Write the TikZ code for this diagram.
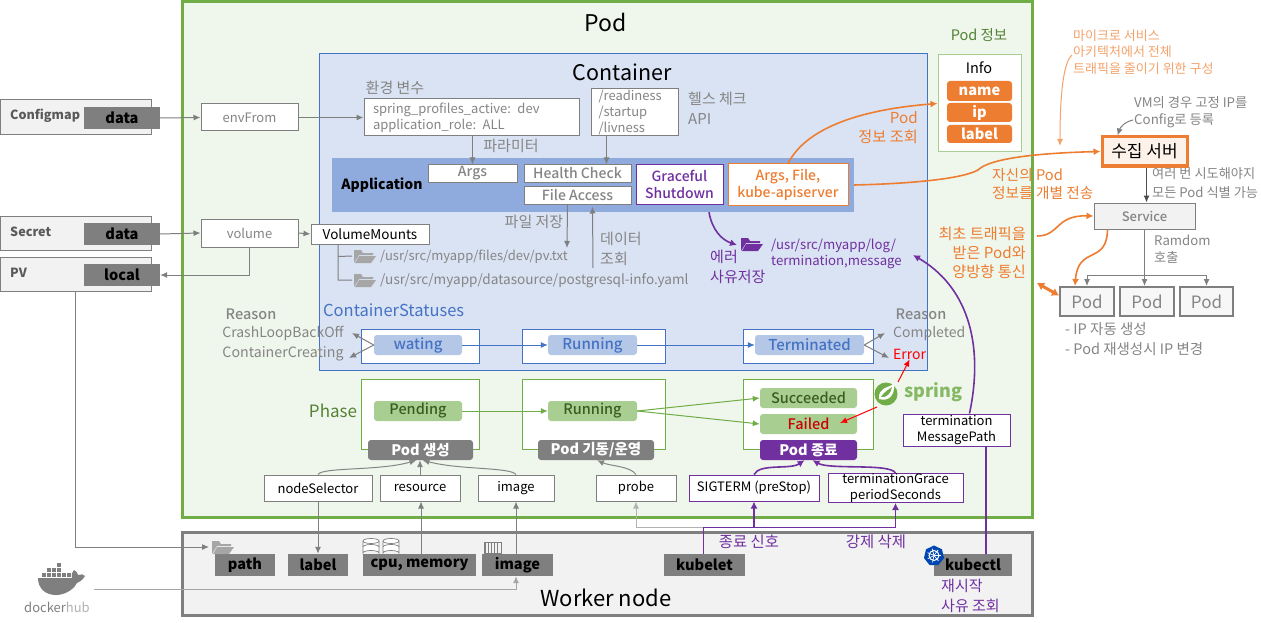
\documentclass[tikz,border=0pt]{standalone}
\usepackage{fontspec}
\setmainfont{Noto Sans CJK KR}
\newfontfamily\med{Noto Sans CJK KR Medium}
\usetikzlibrary{arrows.meta,calc}
\definecolor{G}{HTML}{7F7F7F}
\definecolor{TG}{HTML}{858585}
\definecolor{PG}{HTML}{70AD47}
\definecolor{DG}{HTML}{548235}
\definecolor{BL}{HTML}{4472C4}
\definecolor{PU}{HTML}{7030A0}
\definecolor{OR}{HTML}{ED7D31}
\definecolor{LO}{HTML}{F4A36B}
\definecolor{LG}{HTML}{F2F2F2}
\definecolor{APP}{HTML}{8FAADC}
\newcommand\fs[1]{\fontsize{#1}{#1}\selectfont}
\newcommand\fsl[2]{\fontsize{#1}{#2}\selectfont}
\newcommand\bx[7][]{\pgfmathsetmacro\cx{(#3+#5)/2}\pgfmathsetmacro\cy{(#4+#6)/2}\pgfmathsetmacro\ww{#5-#3}\pgfmathsetmacro\hh{#6-#4}\node[inner sep=0pt,align=center,minimum width=\ww pt,minimum height=\hh pt,#1] (#2) at (\cx,\cy) {#7};}
\newcommand\tx[5][]{\node[inner sep=0pt,align=left,#1] (#2) at (#3,#4) {#5};}
\tikzset{
 whitebox/.style={draw=G,fill=white,line width=1pt,text=TG,font=\fs{13}},
 blackbox/.style={draw=G,fill=white,line width=1pt,text=black,font=\fs{13}},
 purplebox/.style={draw=PU,fill=white,line width=1pt,text=black,font=\fs{13}},
 outbox/.style={draw=G,fill=LG,line width=1pt},
 outtext/.style={anchor=west,text=black!65,font=\bfseries\fs{12.6}},
 databox/.style={fill=G,text=black,font=\bfseries\fs{14.6}},
 bluebox/.style={draw=BL,fill=white,line width=1pt},
 greenbox/.style={draw=PG,fill=white,line width=1pt},
 bluepill/.style={fill=BL!40!white,rounded corners=3pt,text=BL,font=\med\fs{15}},
 greenpill/.style={fill=PG!60!white,rounded corners=3pt,text=DG!70!black,font=\med\fs{14.5}},
 graypill/.style={fill=G,rounded corners=3pt,text=white,font=\bfseries\fs{14.5}},
 orangepill/.style={fill=OR,rounded corners=3pt,text=white,font=\bfseries\fs{14.6}},
 podbox/.style={draw=G,fill=LG!60!white,line width=2pt,text=TG,font=\fs{17}},
 gt/.style={text=TG,font=\fs{15}},
 gtl/.style={text=TG,font=\fsl{15}{20},anchor=west},
 ot/.style={text=OR,font=\fsl{15.2}{19}},
 put/.style={text=PU,font=\fsl{15}{20}},
 ga/.style={draw=G,line width=1pt,-{Latex[length=7pt,width=6pt]}},
 ba/.style={draw=BL,line width=1pt,-{Latex[length=7pt,width=6pt]}},
 gra/.style={draw=PG,line width=1pt,-{Latex[length=7pt,width=6pt]}},
 pa/.style={draw=PU,line width=1.6pt,-{Latex[length=7pt,width=7pt]}},
 oa/.style={draw=OR,line width=1.6pt,-{Latex[length=7pt,width=7pt]}},
 ra/.style={draw=red,line width=1pt,-{Latex[length=7pt,width=6pt]}},
 folderico/.pic={\fill[#1] (0,0)--(0,-13)--(7,-13)--(9,-10)--(19,-10)--(19,-8)--(5,-8)--(0,0)--cycle;
   \fill[#1] (1,0)--(5,-7)--(22,-7)--(17,0)--cycle;},
 cyl/.pic={\draw[G,fill=white,line width=.7pt] (-8,-12) -- (-8,0) arc[start angle=180,end angle=360,x radius=8,y radius=2.5] -- (8,-12);
   \draw[G,fill=white,line width=.7pt] (0,-12) ellipse[x radius=8,y radius=2.5];
   \draw[G,line width=.7pt] (-8,-6) arc[start angle=180,end angle=360,x radius=8,y radius=2.5];}
}
\begin{document}
\begin{tikzpicture}[x=1pt,y=-1pt]
\useasboundingbox (0,0) rectangle (1261,623);
\fill[white] (0,0) rectangle (1261,623);
% regions
\bx[draw=PG,fill=PG!11!white,line width=3pt]{pod}{182}{2}{1032}{517}{}
\tx{podt}{606}{22}{\fs{23}Pod}
\bx[draw=G,fill=LG,line width=3pt]{worker}{182}{532}{1032}{615}{}
\tx{workert}{606}{598}{\fs{22}Worker node}
\bx[draw=BL,fill=BL!20!white,line width=1pt]{cont}{319}{54}{927}{370}{}
\tx{contt}{622}{72}{\fs{21.5}Container}
% left
\bx[outbox]{cfg}{0}{100}{151}{135}{}
\tx[outtext]{cfgt}{10}{116}{Configmap}
\bx[databox]{cfgd}{84}{107}{160}{129}{data}
\bx[outbox]{sec}{0}{216}{151}{250}{}
\tx[outtext]{sect}{10}{232}{Secret}
\bx[databox]{secd}{84}{223}{160}{245}{data}
\bx[outbox]{pv}{0}{257}{151}{291}{}
\tx[outtext]{pvt}{10}{273}{PV}
\bx[databox]{pvd}{84}{264}{160}{286}{local}
\bx[whitebox]{envf}{201}{104}{298}{131}{envFrom}
\bx[whitebox]{vol}{201}{219}{298}{247}{volume}
\bx[blackbox,font=\fs{13.5}]{vm}{311}{224}{429}{244}{VolumeMounts}
\draw[ga] (cfgd.east) -- (envf.west);
\draw[ga] (secd.east) -- (vol.west);
\draw[ga] (vol.east) -- (vm.west);
\draw[ga] (vol.south) |- (pvd.east);
% env, health
\tx[gt]{envt}{395}{88}{환경 변수}
\bx[whitebox,align=left,text width=197pt,font=\fsl{13}{16}]{env}{364}{99}{579}{136}{spring\_profiles\_active: dev\\application\_role: ALL}
\draw[ga] (envf.east) -- (env.west |- envf.east);
\bx[whitebox,align=left,text width=72pt,font=\fsl{13}{16}]{rd}{591}{89}{678}{136}{/readiness\\/startup\\/livness}
\tx[gtl]{hct}{688}{108}{헬스 체크\\API}
\tx[gt]{part}{511}{146}{파라미터}
% application
\bx[fill=APP]{app}{332}{158}{854}{212}{}
\tx[font=\bfseries\fs{14}]{appt}{382}{185}{Application}
\bx[whitebox,font=\med\fs{14}]{args}{428}{165}{517}{182}{Args}
\bx[whitebox,font=\med\fs{14}]{hc}{524}{165}{631}{182}{Health Check}
\bx[whitebox,font=\med\fs{14}]{fa}{524}{186}{631}{204}{File Access}
\bx[draw=PU,fill=white,line width=1pt,text=PU,font=\med\fsl{14}{17}]{gs}{636}{165}{723}{204}{Graceful\\Shutdown}
\bx[draw=OR,fill=white,line width=1pt,text=OR,font=\med\fsl{14}{17}]{afk}{728}{164}{848}{205}{Args, File,\\kube-apiserver}
\draw[ga] (env.south -| args.north) -- (args.north);
\draw[ga] ([xshift=29pt]hc.north |- rd.south) -- ([xshift=29pt]hc.north);
% volume mounts
\coordinate (fpv) at (567,248);
\coordinate (fds) at (593,268);
\draw[ga] ([xshift=-10pt]fa.south) -- (fpv);
\draw[ga] (fds) -- ([xshift=15pt,yshift=-2pt]fa.south);
\tx[gt]{fst}{534}{222}{파일 저장}
\tx[gtl]{dqt}{600}{249}{데이터\\조회}
\pic at (354,263) {folderico=gray!70};
\pic at (354,287) {folderico=gray!70};
\draw[draw=G,line width=1pt] ([xshift=-32pt]vm.south) |- (352,280) ([xshift=-32pt,yshift=-12pt]vm.south) -- (352,256);
\tx[gtl,font=\fs{13}]{p1}{380}{257}{/usr/src/myapp/files/dev/pv.txt}
\tx[gtl,font=\fs{13.6}]{p2}{380}{281}{/usr/src/myapp/datasource/postgresql-info.yaml}
% log
\pic at (741,251) {folderico=PU};
\tx[put,anchor=west,font=\fsl{13.2}{16}]{logt}{771}{254}{/usr/src/myapp/log/\\termination,message}
\tx[put,anchor=west]{errt}{710}{267}{에러\\사유저장}
\draw[pa] ([xshift=29.5pt]gs.south |- app.south) .. controls (712,230) and (722,240) .. (737,245);
% statuses
\tx[anchor=west,text=BL,font=\fs{16.5}]{cst}{323}{310}{ContainerStatuses}
\tx[text=TG,font=\med\fs{14.5}]{r1}{251}{314}{Reason}
\tx[gt,font=\fs{14}]{cl}{283}{333}{CrashLoopBackOff}
\tx[gt,font=\fs{14.2}]{cc}{283}{354}{ContainerCreating}
\bx[bluebox]{sb1}{361}{329}{479}{363}{}
\bx[bluebox]{sb2}{522}{329}{665}{363}{}
\bx[bluebox]{sb3}{743}{329}{873}{363}{}
\bx[bluepill]{wat}{374}{335}{462}{355}{wating}
\bx[bluepill]{srun}{548}{335}{637}{355}{Running}
\bx[bluepill]{term}{755}{335}{864}{355}{Terminated}
\draw[ba] (wat.east) -- (srun.west);
\draw[ba] (srun.east) -- (term.west);
\coordinate (a1) at (352,333); \coordinate (a2) at (349,358);
\coordinate (a3) at (885,333); \coordinate (a4) at (889,358);
\draw[ga] (wat.west) -- (a1);
\draw[ga] (wat.west) -- (a2);
\draw[ga] (term.east) -- (a3);
\draw[ga] (term.east) -- (a4);
\tx[text=TG,font=\med\fs{14.5}]{r2}{921}{314}{Reason}
\tx[gtl,font=\fs{14}]{cmp}{893}{334}{Completed}
\tx[anchor=west,text=red,font=\fs{14}]{err}{893}{354}{Error}
% phases
\tx[text=DG,font=\fs{17}]{ph}{333}{411}{Phase}
\bx[greenbox]{pb1}{361}{379}{479}{449}{}
\bx[greenbox]{pb2}{522}{379}{665}{449}{}
\bx[greenbox]{pb3}{743}{379}{873}{449}{}
\bx[greenpill]{pen}{374}{401}{462}{421}{Pending}
\bx[greenpill]{prun}{548}{401}{637}{421}{Running}
\bx[greenpill]{suc}{760}{388}{857}{408}{Succeeded}
\bx[greenpill,text=red!80!black]{fail}{760}{414}{857}{434}{Failed}
\bx[graypill]{pc}{368}{440}{473}{460}{Pod 생성}
\bx[graypill]{pr}{538}{440}{654}{460}{Pod 기동/운영}
\bx[graypill,fill=PU]{pe}{760}{440}{857}{460}{Pod 종료}
\draw[gra] (pen.east) -- (prun.west);
\draw[gra] (prun.east) -- (suc.west);
\draw[gra] (prun.east) -- (fail.west);
% spring logo
\fill[PG] (886,394) circle[radius=11.5];
\fill[white] (879,399) .. controls (878,388) and (887,388) .. (894,384) .. controls (895,395) and (889,402) .. (879,399) -- cycle;
\fill[PG] (881,397) .. controls (884,392) and (888,390) .. (892,387) .. controls (891,393) and (887,398) .. (881,397) -- cycle;
\tx[anchor=west,text=PG!85!white,font=\bfseries\fs{18}]{spr}{904}{392}{spring}
\coordinate (s1) at (898,382); \coordinate (s2) at (877,407); \coordinate (s3) at (840,423);
\draw[ra] (s1) -- (err.south);
\draw[ra] (s2) -- (s3);
% term path
\bx[purplebox,font=\fsl{13}{16}]{tmp}{903}{414}{1010}{446}{termination\\MessagePath}
% row
\bx[blackbox]{ns}{264}{475}{372}{501}{nodeSelector}
\bx[blackbox]{res}{380}{475}{460}{501}{resource}
\bx[blackbox]{img}{478}{475}{554}{501}{image}
\bx[blackbox]{prb}{596}{475}{676}{501}{probe}
\bx[purplebox]{sig}{689}{475}{819}{501}{SIGTERM (preStop)}
\bx[purplebox,font=\fsl{13}{16}]{tgp}{828}{475}{963}{501}{terminationGrace\\periodSeconds}
\draw[ga,draw=TG] (ns.north) .. controls (322,467) and (380,471) .. ([xshift=-4pt]pc.south);
\draw[ga,draw=TG] (res.north) -- (res.north |- pc.south);
\draw[ga,draw=TG] (img.north) .. controls (510,467) and (460,470) .. ([xshift=2pt]pc.south);
\draw[ga,draw=TG] (prb.north) .. controls (630,466) and (610,466) .. ([xshift=1pt]pr.south);
\draw[pa] (sig.north) .. controls (760,463) and (790,470) .. ([xshift=-4pt]pe.south);
\draw[pa] (tgp.north) .. controls (890,463) and (830,470) .. ([xshift=4pt]pe.south);
% worker
\bx[databox]{path}{215}{554}{275}{576}{path}
\bx[databox]{lab}{288}{554}{348}{576}{label}
\bx[databox]{cpu}{363}{554}{476}{576}{cpu, memory}
\bx[databox]{wimg}{482}{554}{553}{576}{image}
\bx[databox]{kub}{664}{554}{745}{576}{kubelet}
\bx[databox]{kct}{934}{554}{1012}{576}{kubectl}
\pic at (212,554) {folderico=gray!70};
\pic at (371,553) {cyl};
\pic at (391,553) {cyl};
\foreach \i in {485,488,...,497} {\draw[G,line width=.6pt] (\i,542) -- (\i,553);}
\draw[G,line width=.6pt] (484,542) rectangle (501,553);
\draw[ga] (ns.south) -- (ns.south |- lab.north);
\draw[ga] ([xshift=1pt]res.south |- cpu.north) -- ([xshift=1pt]res.south);
\draw[ga] (img.south |- wimg.north) -- (img.south);
\coordinate (pvf) at (209,547);
\draw[ga] (pv.south) |- (pvf);
\coordinate (bus) at (703,527);
\draw[ga,draw=gray!60] (bus) -| (prb.south);
\draw[pa,line width=1pt] ([xshift=-1.5pt]kub.north) |- ([yshift=0pt]bus) -| (tgp.south);
\draw[pa] (sig.south |- bus) -- (sig.south);
\tx[put,font=\fs{15.4}]{t1}{749}{542}{종료 신호}
\tx[put,font=\fs{15.4}]{t2}{876}{542}{강제 삭제}
\tx[put,anchor=west]{t3}{941}{596}{재시작\\사유 조회}
% kubectl
\draw[draw=PU,line width=1.6pt] ([xshift=13pt]kct.north) -- ([xshift=13pt,yshift=0pt]kct.north |- tmp.south);
\draw[pa] ([xshift=13pt]tmp.north) .. controls (985,340) and (965,285) .. (913,255);
\fill[blue!60!cyan!70!black] (934,545.5) -- (942,549.3) -- (944,558) -- (938.5,565) -- (929.5,565) -- (924,558) -- (926,549.3) -- cycle;
\draw[white,line width=1pt] (934,555.5) circle[radius=5];
\foreach \a in {0,51,...,310} {\draw[white,line width=.7pt] (934,555.5) -- ++(\a:7);}
% docker
\fill[G] (38,578) -- (72,578) .. controls (71,575) and (72,572) .. (74,570) .. controls (76,571) and (78,573) .. (78,575) .. controls (81,574) and (84,574) .. (85,576) .. controls (82,581) and (79,582) .. (77,583) .. controls (72,592) and (62,595) .. (56,595) .. controls (45,595) and (38,588) .. (38,578) -- cycle;
\foreach \x/\y in {42/573,47/573,52/573,57/573,62/573,67/573,47/568,52/568,57/568,57/563}{\fill[G] (\x,\y) rectangle ++(4,4);}
\tx[text=G,font=\fs{13}]{dh}{57}{607}{docker\textcolor{gray!60}{hub}}
\coordinate (dk) at (94,589);
\draw[ga,draw=gray!70] (dk) -| (img.south |- wimg.south);
% info
\tx[text=DG,font=\fs{14.5}]{pi}{979}{35}{Pod 정보}
\bx[draw=PG!60!white,fill=white,line width=1pt]{info}{938}{55}{1021}{152}{}
\tx[font=\fs{14.5}]{infot}{979}{68}{Info}
\bx[orangepill]{nm}{947}{81}{1012}{101}{name}
\bx[orangepill]{ip}{947}{103}{1012}{122}{ip}
\bx[orangepill]{lb}{947}{125}{1012}{143}{label}
\draw[oa] (afk.north) .. controls (805,130) and (855,110) .. (info.west);
\tx[ot,align=right,anchor=east]{pqt}{918}{128}{Pod\\정보 조회}
% collector
\bx[draw=OR,fill=OR!10!white,line width=3pt,font=\fs{17}]{col}{1102}{137}{1187}{166}{수집 서버}
\draw[oa] (app.east) .. controls (900,184) and (960,180) .. (978,170) .. controls (990,158) and (1040,153) .. (col.west);
\tx[ot,anchor=west,font=\fsl{14.7}{18}]{selft}{992}{184}{자신의 Pod\\정보를 개별 전송}
\tx[ot,font=\fsl{13}{16.5},text=LO,anchor=west]{mst}{1073}{52}{마이크로 서비스\\아키텍처에서 전체\\트래픽을 줄이기 위한 구성}
\coordinate (ms) at (1072,55); \coordinate (msb) at (1060,146);
\draw[draw=LO,line width=1pt,-{Latex[length=7pt,width=6pt]}] (ms) .. controls (1064,62) and (1060,90) .. (msb);
\tx[gtl,font=\fsl{13.3}{16.5}]{vmt}{1134}{112}{VM의 경우 고정 IP를\\Config로 등록}
\coordinate (vm1) at (1133,120);
\draw[ga] (vm1) .. controls (1124,122) and (1120,128) .. ([xshift=-27pt]col.north);
% service
\bx[draw=G,fill=LG,line width=1pt,text=TG,font=\med\fs{13}]{svc}{1094}{203}{1195}{229}{Service}
\draw[draw=black!70,line width=1pt,-{Latex[length=7pt,width=6pt]}] ([xshift=2pt]col.south) -- ([xshift=2pt]col.south |- svc.north);
\tx[gtl,font=\fsl{13.2}{19}]{tryt}{1152}{183}{여러 번 시도해야지\\모든 Pod 식별 가능}
\bx[podbox]{p1b}{1060}{287}{1114}{316}{Pod}
\bx[podbox]{p2b}{1120}{287}{1174}{316}{Pod}
\bx[podbox]{p3b}{1180}{287}{1233}{316}{Pod}
\draw[ga] (svc.south) -- (svc.south |- p2b.north);
\draw[ga] (svc.south |- 0,275) -| (p1b.north);
\draw[ga] (svc.south |- 0,275) -| (p3b.north);
\tx[gtl,font=\fsl{13.2}{17}]{rnd}{1154}{249}{Ramdom\\호출}
\draw[oa] ([xshift=-37pt]svc.south) .. controls (1107,265) and (1078,245) .. ([xshift=-12pt]p1b.north);
\coordinate (traf) at (1037,236);
\draw[oa] (traf) .. controls (1060,236) and (1055,215) .. (svc.west);
\coordinate (bd) at (1037,283);
\draw[draw=OR,line width=3pt,{Latex[length=7pt,width=9pt]}-{Latex[length=7pt,width=9pt]}] (bd) -- ([yshift=6pt]p1b.west);
\tx[ot,align=right,anchor=east]{trt}{1026}{253}{최초 트래픽을\\받은 Pod와\\양방향 통신}
\tx[gtl,font=\fsl{14.5}{20}]{ipt}{1065}{339}{- IP 자동 생성\\- Pod 재생성시 IP 변경}
\end{tikzpicture}
\end{document}
